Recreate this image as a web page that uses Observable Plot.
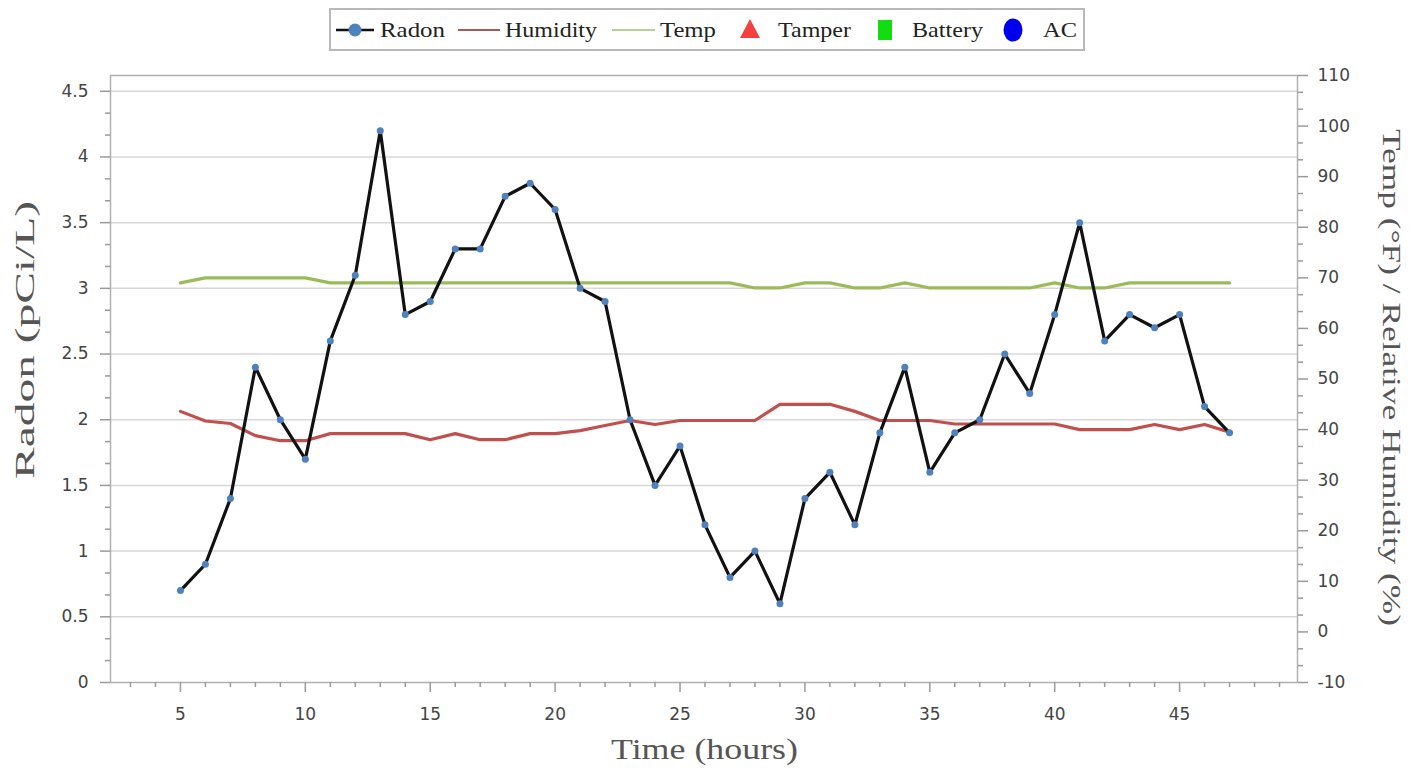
<!DOCTYPE html>
<html><head><meta charset="utf-8">
<script src="https://cdn.jsdelivr.net/npm/d3@7"></script>
<script src="https://cdn.jsdelivr.net/npm/@observablehq/plot@0.6"></script>
<style>
body{margin:0;background:#fff;}
#wrap{position:relative;width:1417px;height:781px;overflow:hidden;}
#legend{position:absolute;left:0;top:0;}
#chart{position:absolute;left:0;top:56px;}
</style></head><body>
<div id="wrap"><svg id="legend" width="1417" height="56"></svg><div id="chart"></div></div>
<script>
// ---- data ----
const hours = [5,6,7,8,9,10,11,12,13,14,15,16,17,18,19,20,21,22,23,24,25,26,27,28,29,30,31,32,33,34,35,36,37,38,39,40,41,42,43,44,45,46,47];
const radon = [0.7,0.9,1.4,2.4,2.0,1.7,2.6,3.1,4.2,2.8,2.9,3.3,3.3,3.7,3.8,3.6,3.0,2.9,2.0,1.5,1.8,1.2,0.8,1.0,0.6,1.4,1.6,1.2,1.9,2.4,1.6,1.9,2.0,2.5,2.2,2.8,3.5,2.6,2.8,2.7,2.8,2.1,1.9];
const humidity = [43.6,41.7,41.2,38.8,37.8,37.8,39.2,39.2,39.2,39.2,38,39.2,38,38,39.2,39.2,39.8,40.8,41.8,41,41.8,41.8,41.8,41.8,45,45,45,43.6,41.8,41.8,41.8,41.1,41.1,41.1,41.1,41.1,40,40,40,41,40,41,39.5];
const temp = [69,70,70,70,70,70,69,69,69,69,69,69,69,69,69,69,69,69,69,69,69,69,69,68,68,69,69,68,68,69,68,68,68,68,68,69,68,68,69,69,69,69,69];
const radonTicks = [0,0.5,1,1.5,2,2.5,3,3.5,4,4.5];
const rightTicks = [-10,0,10,20,30,40,50,60,70,80,90,100,110];
const xTicks = [5,10,15,20,25,30,35,40,45];
const xMinorTicks = [3,4,6,7,8,9,11,12,13,14,16,17,18,19,21,22,23,24,26,27,28,29,31,32,33,34,36,37,38,39,41,42,43,44,46,47,48,49];
const legendItems = ["Radon","Humidity","Temp","Tamper","Battery","AC"];

// ---- helpers ----
const rightToLeft = d3.scaleLinear([-10,110],[0,4.62]);
const radonMinor = [];
radonTicks.slice(0,-1).forEach(t => { radonMinor.push(t + 0.5/3, t + 1/3); });
const rightMinor = [];
rightTicks.slice(0,-1).forEach(t => { rightMinor.push(t + 10/3, t + 20/3); });

const data = hours.map((h,i)=>({h, radon: radon[i], hum: humidity[i], temp: temp[i]}));

const axisColor = "#9a9a9a";
const titleFont = {fontFamily:"Liberation Serif", fill:"#555", textAnchor:"start"};
const chart = Plot.plot({
  width:1417, height:725,
  marginTop:19, marginBottom:99, marginLeft:110, marginRight:120,
  x:{domain:[2.2,49.72]},
  y:{domain:[0,4.62]},
  style:{fontFamily:"DejaVu Sans", fontSize:"17px", color:"#444", background:"#fff"},
  marks:[
    Plot.ruleY(radonTicks.filter(d=>d>0), {stroke:"#d8d8d8", strokeWidth:1.5}),
    Plot.frame({stroke:"#b0b0b0", strokeWidth:1.5}),
    Plot.axisY(radonTicks, {anchor:"left", tickSize:10, tickPadding:12, stroke:axisColor, strokeWidth:1.5, tickFormat:d=>String(d), label:null}),
    Plot.axisY(radonMinor, {anchor:"left", tickSize:5, stroke:axisColor, strokeWidth:1.5, tickFormat:()=>"", label:null}),
    Plot.axisY(rightTicks.map(rightToLeft), {anchor:"right", tickSize:10, tickPadding:10, stroke:axisColor, strokeWidth:1.5, tickFormat:d=>String(Math.round(rightToLeft.invert(d))), label:null}),
    Plot.axisY(rightMinor.map(rightToLeft), {anchor:"right", tickSize:5, stroke:axisColor, strokeWidth:1.5, tickFormat:()=>"", label:null}),
    Plot.axisX(xTicks, {anchor:"bottom", tickSize:10, tickPadding:15, stroke:axisColor, strokeWidth:1.5, tickFormat:d=>String(d), label:null}),
    Plot.axisX(xMinorTicks, {anchor:"bottom", tickSize:5, stroke:axisColor, strokeWidth:1.5, tickFormat:()=>"", label:null}),
    Plot.line(data, {x:"h", y:d=>rightToLeft(d.hum), stroke:"#c0504d", strokeWidth:3.2}),
    Plot.line(data, {x:"h", y:d=>rightToLeft(d.temp), stroke:"#9bbb59", strokeWidth:3.2}),
    Plot.line(data, {x:"h", y:"radon", stroke:"#111", strokeWidth:3.2}),
    Plot.dot(data, {x:"h", y:"radon", r:3.5, fill:"#4f81bd"}),
    Plot.text(["Radon (pCi/L)"], {frameAnchor:"left", dx:-85, dy:100, rotate:-90, fontSize:27, ...titleFont}),
    Plot.text(["Temp (°F) / Relative Humidity (%)"], {frameAnchor:"right", dx:93, dy:-250, rotate:90, fontSize:25, ...titleFont}),
    Plot.text(["Time (hours)"], {frameAnchor:"bottom", dx:-93, dy:76, fontSize:30, ...titleFont})
  ]
});
document.getElementById("chart").appendChild(chart);
const fits = {"Radon (pCi/L)":278, "Temp (°F) / Relative Humidity (%)":497, "Time (hours)":187};
d3.select(chart).selectAll("text").each(function(){
  const t = this.textContent;
  if (fits[t]) { this.setAttribute("textLength", fits[t]); this.setAttribute("lengthAdjust","spacingAndGlyphs"); }
});

// ---- legend ----
const lg = d3.select("#legend");
lg.append("rect").attr("x",330).attr("y",9).attr("width",754).attr("height",41).attr("fill","#fff").attr("stroke","#b8b8b8").attr("stroke-width",2);
const cy = 30;
const pos = {Radon:{sx:336, tx:380, w:65}, Humidity:{sx:458, tx:505, w:92}, Temp:{sx:612, tx:660, w:56}, Tamper:{sx:750, tx:778, w:73}, Battery:{sx:885, tx:912, w:71}, AC:{sx:1013, tx:1043, w:34}};
legendItems.forEach(name => {
  const p = pos[name];
  if (name==="Radon") {
    lg.append("line").attr("x1",p.sx).attr("x2",p.sx+38).attr("y1",cy).attr("y2",cy).attr("stroke","#111").attr("stroke-width",2.5);
    lg.append("circle").attr("cx",p.sx+19).attr("cy",cy).attr("r",6.5).attr("fill","#4f81bd");
  } else if (name==="Humidity") {
    lg.append("line").attr("x1",p.sx).attr("x2",p.sx+42).attr("y1",cy).attr("y2",cy).attr("stroke","#a55a5a").attr("stroke-width",2);
  } else if (name==="Temp") {
    lg.append("line").attr("x1",p.sx).attr("x2",p.sx+43).attr("y1",cy).attr("y2",cy).attr("stroke","#b9d08f").attr("stroke-width",2);
  } else if (name==="Tamper") {
    lg.append("path").attr("d",`M${p.sx},${cy-11}L${p.sx+10},${cy+8}L${p.sx-10},${cy+8}Z`).attr("fill","#f44040");
  } else if (name==="Battery") {
    lg.append("rect").attr("x",p.sx-7).attr("y",cy-10).attr("width",14).attr("height",20).attr("fill","#11dd11");
  } else if (name==="AC") {
    lg.append("ellipse").attr("cx",p.sx).attr("cy",cy).attr("rx",9.5).attr("ry",11.5).attr("fill","#0000ee");
  }
  lg.append("text").attr("x",p.tx).attr("y",cy).attr("dy","0.35em").attr("font-family","Liberation Serif").attr("font-size",21).attr("fill","#222")
    .attr("textLength",p.w).attr("lengthAdjust","spacingAndGlyphs").text(name);
});
</script>
</body></html>
